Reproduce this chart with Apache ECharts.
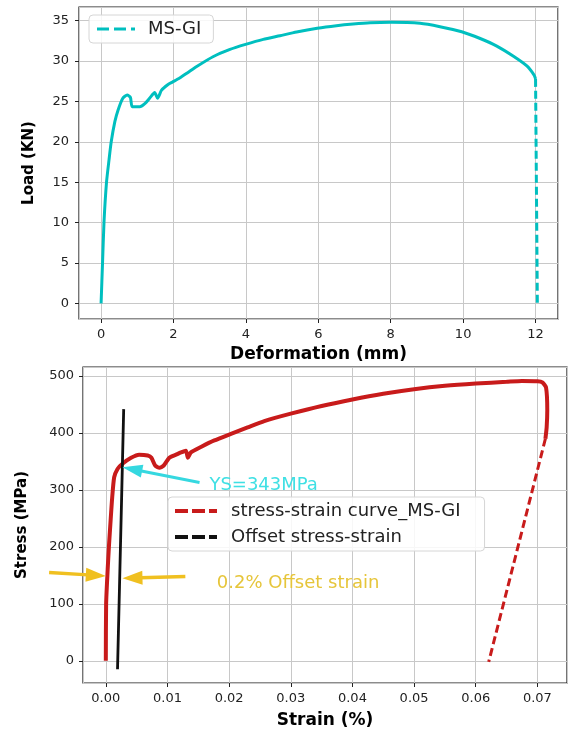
<!DOCTYPE html>
<html><head><meta charset="utf-8">
<script src="https://cdn.jsdelivr.net/npm/echarts@6/dist/echarts.min.js"></script>
<style>html,body{margin:0;padding:0;background:#fff}#c{width:568px;height:734px}</style>
</head><body><div id="c"></div>
<script>
// ---- Top chart: Load vs Deformation ----
const deformation = [0, 0.04, 0.08, 0.15, 0.22, 0.28, 0.38, 0.47, 0.6, 0.72, 0.81, 0.86, 1.07, 1.2, 1.34, 1.48, 1.56, 1.67, 1.85, 1.97, 2.17, 2.4, 2.63, 3.09, 3.56, 3.99, 4.48, 4.94, 5.4, 5.97, 6.5, 6.96, 7.43, 8.0, 8.81, 9.36, 9.96, 10.47, 10.93, 11.39, 11.76, 11.96, 12.0];
const load = [0, 5, 10, 15, 17.8, 20, 22.5, 23.95, 25.4, 25.8, 25.5, 24.35, 24.35, 24.7, 25.4, 26.1, 25.4, 26.4, 27.1, 27.4, 27.9, 28.6, 29.3, 30.54, 31.45, 32.07, 32.69, 33.14, 33.6, 34.06, 34.38, 34.59, 34.75, 34.8, 34.68, 34.26, 33.64, 32.8, 31.86, 30.6, 29.4, 28.27, 27.8];
const dropDeformation = [12.0, 12.05];
const dropLoad = [27.8, -0.3];

// ---- Bottom chart: Stress vs Strain ----
const strain = [0, 0.00005, 0.0003, 0.0005, 0.0008, 0.001, 0.00135, 0.0019, 0.0027, 0.0041, 0.0054, 0.0068, 0.0074, 0.008, 0.0087, 0.0094, 0.0103, 0.0114, 0.0122, 0.013, 0.0133, 0.0138, 0.0155, 0.0176, 0.0203, 0.023, 0.0257, 0.03, 0.035, 0.04, 0.045, 0.05, 0.055, 0.06, 0.065, 0.0675, 0.07, 0.0708, 0.0714, 0.0716, 0.0715, 0.0713];
const stress = [0, 100, 160, 200, 250, 282, 322, 337, 346, 356.5, 362, 360.5, 356.5, 343, 339, 343, 356.5, 362, 366, 369, 356.5, 366, 376, 387, 398.6, 410, 421, 434, 447.5, 459, 469, 477, 483, 487, 490, 491.5, 491, 489, 480, 440, 410, 390];
const unloadStrain = [0.0713, 0.0621];
const unloadStress = [390, -2];
const offsetStrain = [0.0019, 0.00222, 0.00255, 0.0029];
const offsetStress = [-15, 130, 280, 442];

const topLegend = ['MS-GI'];
const bottomLegend = ['stress-strain curve_MS-GI', 'Offset stress-strain'];
const ysText = 'YS=343MPa';
const offsetText = '0.2% Offset strain';
// annotation anchors (data coords of bottom chart)
const ysArrowTail = [0.0152, 313], ysArrowHead = [0.0027, 340], ysTextPos = [0.0168, 309];
const yLeftTail = [-0.0092, 155], yLeftHead = [0.0, 149];
const yRightTail = [0.0129, 148], yRightHead = [0.0027, 145];
const offsetTextPos = [0.018, 136];

const pairs = (xs, ys) => xs.map((x, i) => [x, ys[i]]);
const FONT = '"DejaVu Sans", sans-serif';
const cyan = '#00bfbf', red = '#c81b1b', blk = '#111111';

function axisBase(extra) {
  return Object.assign({
    type: 'value',
    axisLine: { show: false, onZero: false },
    axisTick: { show: true, inside: false, length: 4, lineStyle: { color: '#222', width: 1 } },
    splitLine: { show: true, lineStyle: { color: '#c8c8c8', width: 1 } },
    nameLocation: 'middle'
  }, extra);
}
const lbl = (margin, extra) => Object.assign({ color: '#222', fontSize: 13, fontFamily: FONT, margin: margin, showMinLabel: false, showMaxLabel: false }, extra || {});
const nameH = { fontFamily: FONT, fontWeight: 'bold', fontSize: 17, color: '#000' };
const nameV = { fontFamily: FONT, fontWeight: 'bold', fontSize: 15, color: '#000' };

const chart = echarts.init(document.getElementById('c'), null, { renderer: 'canvas' });
chart.setOption({
  animation: false,
  backgroundColor: '#fff',
  grid: [
    { left: 79, right: 10, top: 7, height: 312, show: true, borderColor: '#1a1a1a', borderWidth: 1.2 },
    { left: 83, right: 1, top: 367, height: 316, show: true, borderColor: '#1a1a1a', borderWidth: 1.2 }
  ],
  xAxis: [
    axisBase({ gridIndex: 0, min: -0.61, max: 12.62, splitNumber: 6, name: 'Deformation (mm)', nameGap: 27, nameTextStyle: nameH, axisLabel: lbl(9) }),
    axisBase({ gridIndex: 1, min: -0.0037, max: 0.0748, splitNumber: 8, name: 'Strain (%)', nameGap: 29, nameTextStyle: nameH,
      axisLabel: lbl(9, { formatter: v => v.toFixed(2) }) })
  ],
  yAxis: [
    axisBase({ gridIndex: 0, min: -1.94, max: 36.7, splitNumber: 7, name: 'Load (KN)', nameGap: 42, nameTextStyle: nameV, axisLabel: lbl(10) }),
    axisBase({ gridIndex: 1, min: -39, max: 516, splitNumber: 5, name: 'Stress (MPa)', nameGap: 53, nameTextStyle: nameV, axisLabel: lbl(9) })
  ],
  legend: [
    { data: topLegend, left: 89, top: 15, padding: [5, 12, 5, 8], itemWidth: 38, itemHeight: 3,
      icon: 'path://M0,0H12V3H0Z M17,0H29V3H17Z M34,0H38V3H34Z',
      backgroundColor: 'rgba(255,255,255,0.85)', borderColor: '#d6d6d6', borderWidth: 1, borderRadius: 4,
      textStyle: { fontSize: 18, fontFamily: FONT, color: '#222', padding: [0, 0, 0, 8] } },
    { data: bottomLegend, orient: 'vertical', left: 168, top: 497, padding: [4, 24, 4, 7], itemWidth: 42, itemHeight: 4, itemGap: 6,
      icon: 'path://M0,0H13V4H0Z M17,0H30V4H17Z M34,0H42V4H34Z',
      backgroundColor: 'rgba(255,255,255,0.85)', borderColor: '#d6d6d6', borderWidth: 1, borderRadius: 4,
      textStyle: { fontSize: 18, fontFamily: FONT, color: '#222', lineHeight: 20, padding: [0, 0, 0, 9] } }
  ],
  series: [
    { type: 'line', name: 'MS-GI', xAxisIndex: 0, yAxisIndex: 0, data: pairs(deformation, load), showSymbol: false,
      color: cyan, lineStyle: { color: cyan, width: 3 }, smooth: 0.2, z: 3 },
    { type: 'line', name: 'MS-GI', xAxisIndex: 0, yAxisIndex: 0, data: pairs(dropDeformation, dropLoad), showSymbol: false,
      color: cyan, lineStyle: { color: cyan, width: 3, type: [8, 4] }, z: 3 },
    { type: 'line', name: 'stress-strain curve_MS-GI', xAxisIndex: 1, yAxisIndex: 1, data: pairs(strain, stress), showSymbol: false,
      color: red, lineStyle: { color: red, width: 4 }, smooth: 0.2, z: 3 },
    { type: 'line', name: 'stress-strain curve_MS-GI', xAxisIndex: 1, yAxisIndex: 1, data: pairs(unloadStrain, unloadStress), showSymbol: false,
      color: red, lineStyle: { color: red, width: 3, type: [8, 4] }, z: 3 },
    { type: 'line', name: 'Offset stress-strain', xAxisIndex: 1, yAxisIndex: 1, data: pairs(offsetStrain, offsetStress), showSymbol: false,
      color: blk, lineStyle: { color: blk, width: 2.8 }, z: 4 }
  ]
});

function px(p) { return chart.convertToPixel({ gridIndex: 1 }, p); }
function arrow(t, h, color, w, hl, hw) {
  const p0 = px(t), p1 = px(h);
  const dx = p1[0] - p0[0], dy = p1[1] - p0[1], L = Math.hypot(dx, dy);
  const ux = dx / L, uy = dy / L, bx = p1[0] - ux * hl, by = p1[1] - uy * hl, nx = -uy, ny = ux;
  return [
    { type: 'line', z: 20, shape: { x1: p0[0], y1: p0[1], x2: bx + ux * 2, y2: by + uy * 2 }, style: { stroke: color, lineWidth: w } },
    { type: 'polygon', z: 20, shape: { points: [[p1[0], p1[1]], [bx + nx * hw / 2, by + ny * hw / 2], [bx - nx * hw / 2, by - ny * hw / 2]] }, style: { fill: color } }
  ];
}
const ysP = px(ysTextPos), offP = px(offsetTextPos);
chart.setOption({
  graphic: [].concat(
    arrow(ysArrowTail, ysArrowHead, '#35d8e0', 3, 20, 13),
    arrow(yLeftTail, yLeftHead, '#f0c020', 3.5, 20, 14),
    arrow(yRightTail, yRightHead, '#f0c020', 3.5, 20, 14),
    [
      { type: 'text', z: 20, x: ysP[0], y: ysP[1], style: { text: ysText, fill: '#3fe0e4', font: '18px ' + FONT, align: 'left', verticalAlign: 'middle' } },
      { type: 'text', z: 20, x: offP[0], y: offP[1], style: { text: offsetText, fill: '#e6c53a', font: '18px ' + FONT, align: 'left', verticalAlign: 'middle' } }
    ]
  )
});
</script>
</body></html>
